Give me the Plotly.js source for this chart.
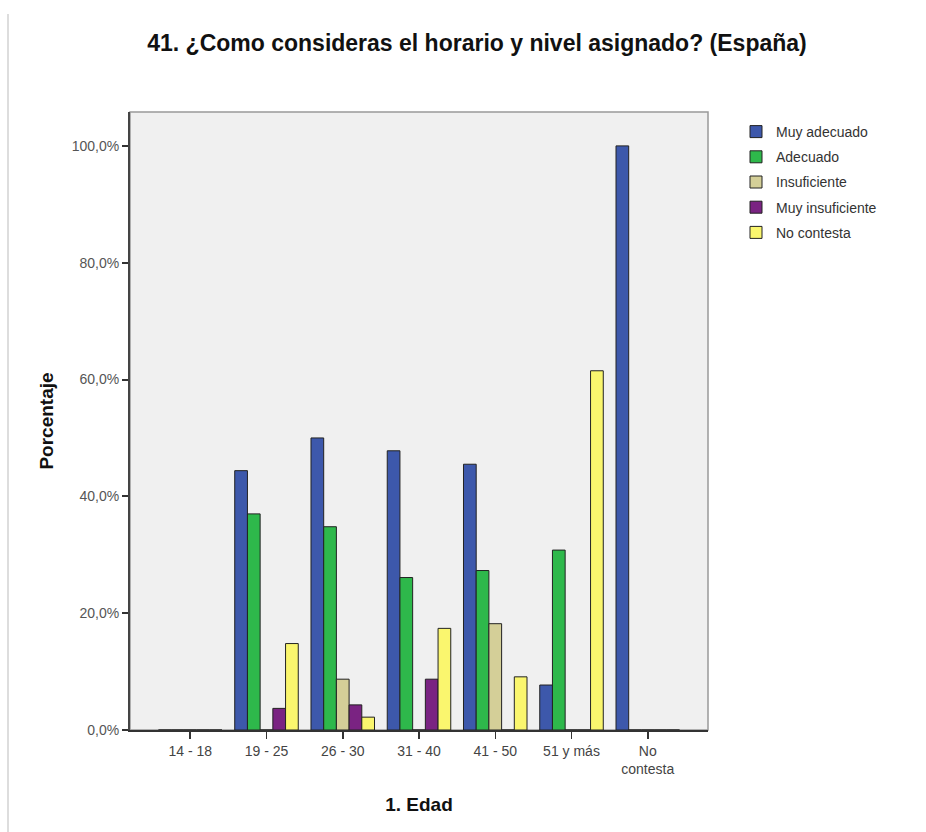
<!DOCTYPE html>
<html>
<head>
<meta charset="utf-8">
<script src="https://cdn.plot.ly/plotly-3.0.1.min.js"></script>
<style>html,body{margin:0;padding:0;background:#fff;}#chart{width:926px;height:832px;}</style>
</head>
<body>
<div id="chart"></div>
<script>
const categories = ['14 - 18', '19 - 25', '26 - 30', '31 - 40', '41 - 50', '51 y más', 'No<br>contesta'];
const seriesNames = ['Muy adecuado', 'Adecuado', 'Insuficiente', 'Muy insuficiente', 'No contesta'];
const muyAdecuado    = [0, 44.4, 50.0, 47.8, 45.5, 7.7, 100.0];
const adecuado       = [0, 37.0, 34.8, 26.1, 27.3, 30.8, 0];
const insuficiente   = [0, 0, 8.7, 0, 18.2, 0, 0];
const muyInsuficiente= [0, 3.7, 4.3, 8.7, 0, 0, 0];
const noContesta     = [0, 14.8, 2.2, 17.4, 9.1, 61.5, 0];
const yTicks = [0, 20, 40, 60, 80, 100];
const yTickLabels = ['0,0%', '20,0%', '40,0%', '60,0%', '80,0%', '100,0%'];

const seriesValues = [muyAdecuado, adecuado, insuficiente, muyInsuficiente, noContesta];
const colors = ['#3D58AB', '#2EB84B', '#D4CF98', '#7A2382', '#FAF66E'];

const traces = seriesValues.map((vals, i) => ({
  type: 'bar',
  name: seriesNames[i],
  x: categories,
  y: vals,
  legendgroup: 'g' + i,
  marker: {color: colors[i], line: {color: '#222', width: 1}},
  hoverinfo: 'x+y+name'
}));

const L = 130, R = 218, T = 112, B = 102, W = 926, H = 832;
const pw = W - L - R, ph = H - T - B;
const FONT = 'Liberation Sans, Arial, sans-serif';

const layout = {
  width: W, height: H,
  margin: {l: L, r: R, t: T, b: B},
  paper_bgcolor: '#ffffff',
  plot_bgcolor: '#F0F0F0',
  barmode: 'group',
  bargap: 0.167,
  bargroupgap: 0,
  font: {family: FONT, color: '#333'},
  title: {
    text: '<b>41. ¿Como consideras el horario y nivel asignado? (España)</b>',
    font: {size: 23, color: '#111', family: FONT},
    x: 477 / W, xanchor: 'center', xref: 'container',
    y: 1 - 43 / H, yanchor: 'middle', yref: 'container'
  },
  xaxis: {
    type: 'category',
    range: [-0.79, 6.79],
    showgrid: false, zeroline: false,
    showline: true, linecolor: '#333', linewidth: 2,
    ticks: 'outside', ticklen: 7, tickcolor: '#333', tickwidth: 1.5,
    tickfont: {size: 14, color: '#444'},
    title: {text: '<b>1. Edad</b>', font: {size: 19, color: '#111'}, standoff: 22}
  },
  yaxis: {
    range: [0, 105.8],
    tickvals: yTicks,
    ticktext: yTickLabels,
    showgrid: false, zeroline: false,
    showline: true, linecolor: '#444', linewidth: 2,
    ticks: 'outside', ticklen: 6, tickcolor: '#333', tickwidth: 2,
    tickfont: {size: 14, color: '#555'},
    title: {text: '<b>Porcentaje</b>', font: {size: 19, color: '#111'}, standoff: 13}
  },
  legend: {
    x: (736 - L) / pw, xanchor: 'left',
    y: (H - B - 116) / ph, yanchor: 'top',
    bgcolor: 'rgba(0,0,0,0)',
    font: {size: 14, color: '#333'},
    tracegroupgap: 4,
    itemwidth: 30,
    itemclick: false
  },
  shapes: [
    {type: 'rect', xref: 'paper', yref: 'paper', x0: 0, x1: 1, y0: 0, y1: 1,
     line: {color: '#999', width: 1.5}, fillcolor: 'rgba(0,0,0,0)', layer: 'below'},
    {type: 'line', xref: 'paper', yref: 'paper',
     x0: (8 - L) / pw, x1: (8 - L) / pw, y0: (H - B - 14) / ph, y1: (H - B - 832) / ph,
     line: {color: '#bbb', width: 1}}
  ],
  showlegend: true
};

Plotly.newPlot('chart', traces, layout, {displayModeBar: false, staticPlot: true});
</script>
</body>
</html>
